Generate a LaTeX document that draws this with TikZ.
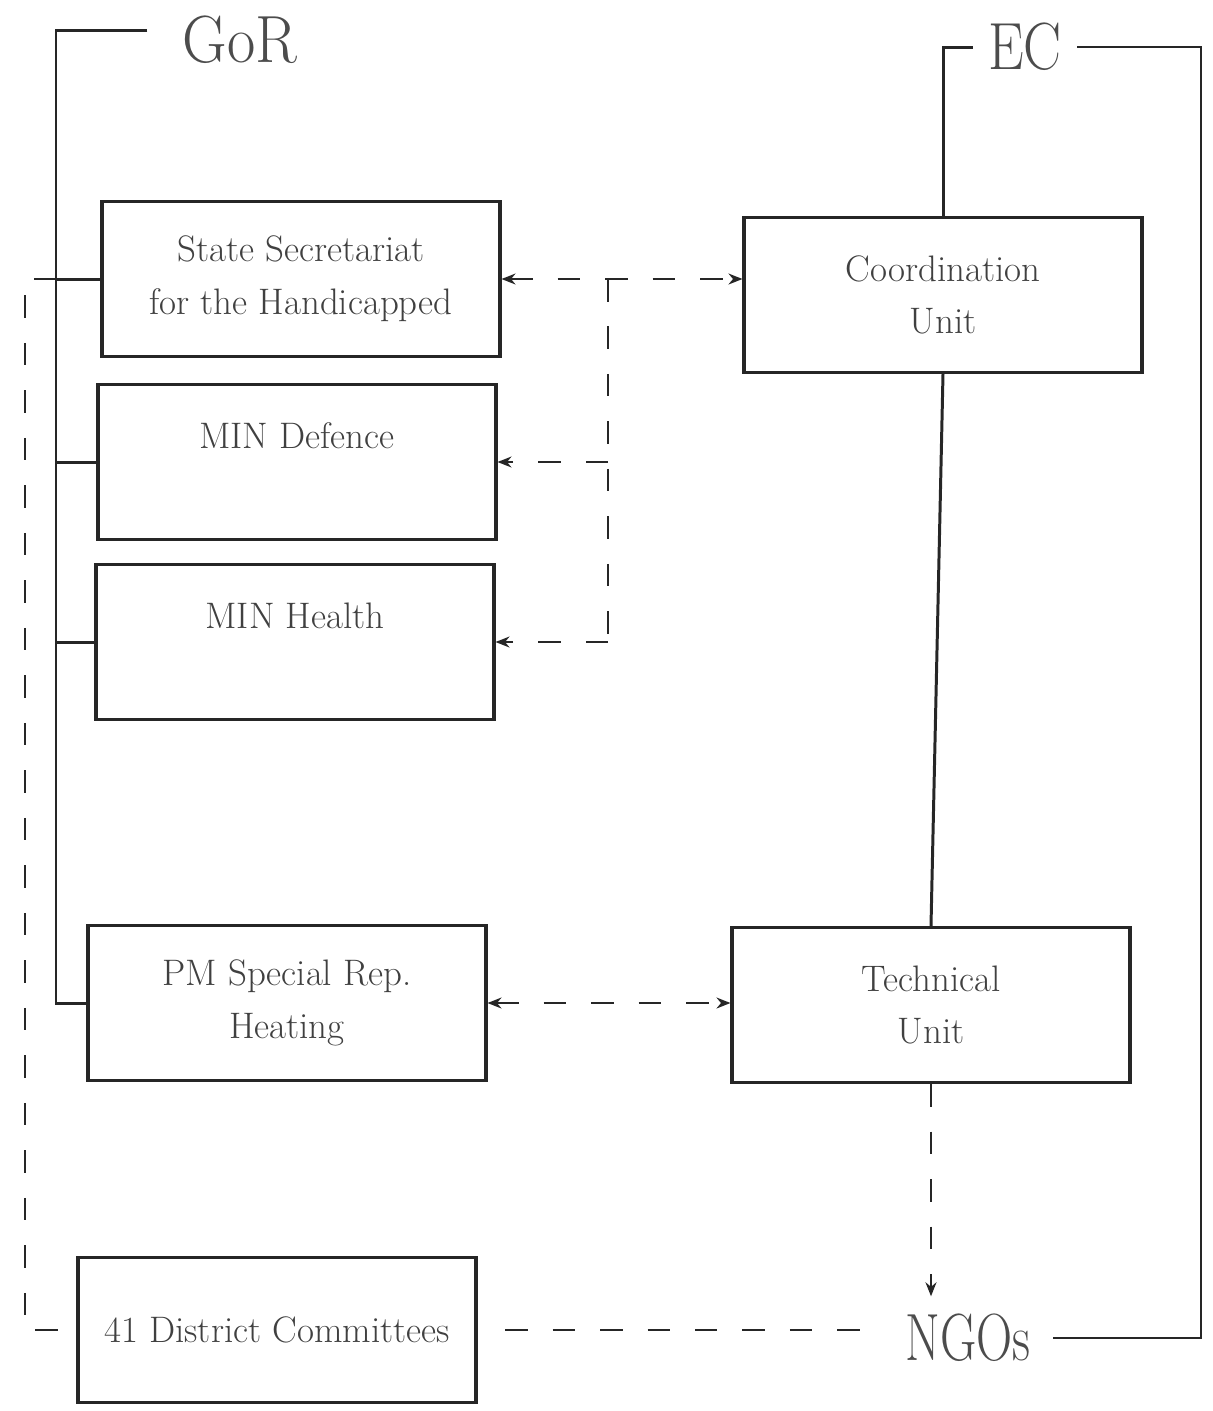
\documentclass[tikz,border=0pt]{standalone}
\usepackage{graphicx}
\usetikzlibrary{arrows.meta, positioning, calc}
\newcommand{\Narrow}[2]{\scalebox{#1}[1]{#2}}
\tikzset{
    unit/.style={draw=black!85, rectangle, line width=1.8pt, minimum width=7.96cm,
        minimum height=3.1cm, align=center, text=black!75,
        font=\fontsize{21}{30}\selectfont},
    big/.style={font=\fontsize{38}{40}\selectfont, text=black!70,
        inner xsep=0.3cm, inner ysep=0pt},
    link/.style={draw=black!85, line width=1.7pt},
    rim/.style={draw=black!85, line width=1.2pt},
    tie/.style={draw=black!85, line width=1.1pt, dash pattern=on 0.45cm off 0.5cm},
}

\begin{document}
\begin{tikzpicture}[x=0.02cm, y=-0.02cm, >={Stealth[length=0.28cm, width=0.22cm]}]
    \useasboundingbox (0,0) rectangle (1213,1411);

    % government side
    \node[unit] (ss) at (301,279) {State Secretariat\\for the Handicapped};
    \node[unit] (def) at (297,462) {MIN Defence\\\mbox{}};
    \node[unit] (hea) at (295,642) {MIN Health\\\mbox{}};
    \node[unit] (pm) at (287,1003) {PM Special Rep.\\Heating};
    \node[unit, minimum height=2.9cm] (dc) at (277,1330) {41 District Committees};

    % EC side
    \node[unit] (cu) at (943,295) {Coordination\\Unit};
    \node[unit] (tu) at (931,1005) {Technical\\Unit};

    \node[big] (gor) at (240,40) {\Narrow{0.92}{GoR}};
    \node[big] (ec) at (1025,47) {\Narrow{0.85}{EC}};
    \node[big, inner xsep=0.45cm] (ngo) at (968,1338) {\Narrow{0.75}{NGOs}};

    \coordinate (bustop) at (56,30);
    \coordinate (dashx) at (25,0);
    \coordinate (fork) at (608,0);
    \coordinate (ecright) at (1201,0);

    % GoR bus
    \draw[link, shorten <=0.4cm] (gor.west |- bustop) -- (bustop)
        -- (bustop |- pm.west) -- (pm.west);
    \foreach \b in {ss,def,hea}
        \draw[link] (bustop |- \b.west) -- (\b.west);
    \draw[tie] (bustop |- ss.west) -- (dashx |- ss.west)
        -- (dashx |- dc.west) -- (dc.west);

    % links between the two sides
    \draw[tie, <->] (ss.east) -- (ss.east -| cu.west);
    \draw[tie] (fork |- ss.east) -- (fork |- hea.east);
    \draw[tie, ->] (fork |- def.east) -- (def.east);
    \draw[tie, ->] (fork |- hea.east) -- (hea.east);
    \draw[tie, <->] (pm.east) -- (pm.east -| tu.west);
    \draw[tie, shorten <=0.55cm] (dc.east) -- (dc.east -| ngo.west);

    % EC line
    \draw[link] (cu.north) -- (cu.north |- ec.west) -- (ec.west);
    \draw[link] (cu.south) -- (tu.north);
    \draw[tie, ->, shorten >=0.35cm] (tu.south) -- (tu.south |- ngo.north);
    \draw[rim] (ec.east) -- (ecright |- ec.east) -- (ecright |- ngo.east) -- (ngo.east);
\end{tikzpicture}
\end{document}
